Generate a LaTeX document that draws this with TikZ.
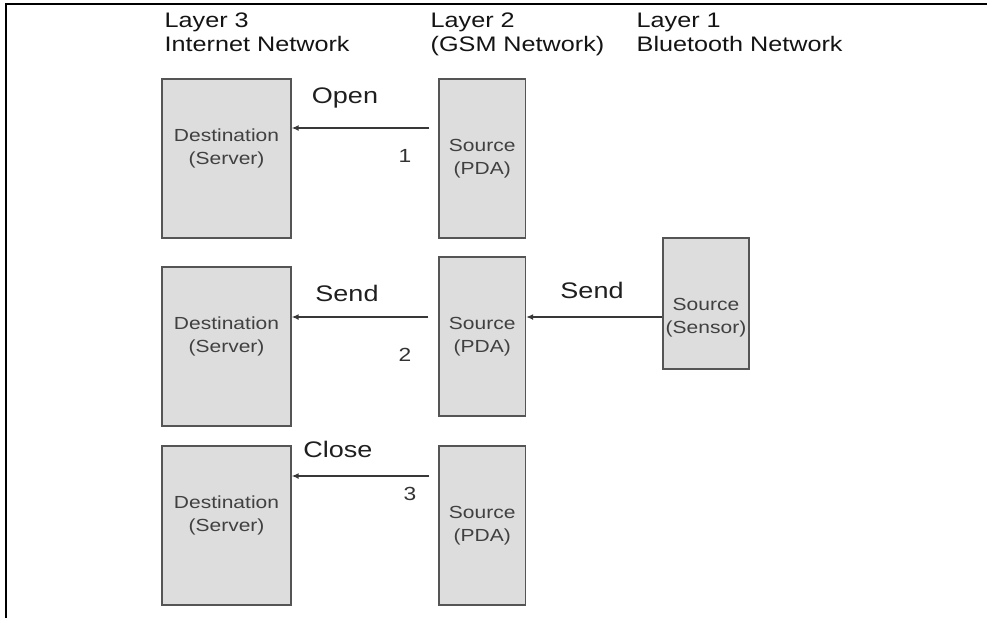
\documentclass[tikz,border=0pt]{standalone}
\usepackage{fontspec}
\setmainfont{Liberation Sans}[FakeStretch=1.2]
\usetikzlibrary{positioning, arrows.meta}
\definecolor{boxfill}{HTML}{DDDDDD}
\definecolor{boxline}{HTML}{555555}
\definecolor{boxtext}{HTML}{404040}
\definecolor{inkline}{HTML}{383838}
\newcommand{\hdfont}{\fontsize{21}{24}\selectfont}
\newcommand{\bxfont}{\fontsize{17.5}{23}\selectfont}
\newcommand{\lbfont}{\fontsize{22.5}{27}\selectfont}
\tikzset{
  arr/.style={-{Latex[length=7pt,width=6pt]}, line width=1.5pt, draw=inkline},
  blk/.style={draw=boxline, fill=boxfill, line width=1.3pt, inner sep=0pt, minimum height=159pt},
  bxt/.style={font=\bxfont, text=boxtext, align=center, inner sep=0pt},
  hd/.style={font=\hdfont, text=black!92, align=left, inner sep=0pt, anchor=north west},
  lab/.style={font=\lbfont, text=black!88, inner sep=0pt, anchor=base}
}

\begin{document}
\begin{tikzpicture}[x=1pt, y=1pt,
  srv/.style={blk, minimum width=129pt, label={[bxt, yshift=10.5pt]center:Destination\\(Server)}},
  pda/.style={blk, minimum width=86.5pt, label={[bxt]center:Source\\(PDA)}},
  sen/.style={blk, minimum width=86pt, minimum height=131pt, label={[bxt, yshift=-14.5pt]center:Source\\(Sensor)}},
  num/.style={font=\fontsize{19}{23}\selectfont, text=black!80, inner sep=0pt, anchor=base}]
\useasboundingbox (0,0) rectangle (987,-618);
\draw[line width=2pt] (6,-618) -- (6,-4.5) -- (987,-4.5);
% layer headings
\node[hd] (h3) at (164.5,-13) {Layer 3\\Internet Network};
\node[hd] (h2) at (430.5,-13) {Layer 2\\(GSM Network)};
\node[hd] (h1) at (636.5,-13) {Layer 1\\Bluetooth Network};
% boxes
\node[srv] (d1) at (226.5,-158.5) {};
\node[srv] (d2) at (226.5,-346.5) {};
\node[srv] (d3) at (226.5,-525.5) {};
\node[pda] (p1) at (482.25,-158.5) {};
\node[pda] (p2) at (482.25,-336.5) {};
\node[pda] (p3) at (482.25,-525.5) {};
\node[sen] (s1) at (706,-303.5) {};
% messages
\coordinate (t1) at ([xshift=-9pt, yshift=30.5pt]p1.west);
\coordinate (t2) at ([xshift=-10pt, yshift=19.5pt]p2.west);
\coordinate (t3) at ([xshift=-9pt, yshift=49.5pt]p3.west);
\coordinate (t4) at ([yshift=-13.5pt]s1.west);
\draw[arr] (t1) -- (t1 -| d1.east);
\draw[arr] (t2) -- (t2 -| d2.east);
\draw[arr] (t3) -- (t3 -| d3.east);
\draw[arr] (t4) -- (t4 -| p2.east);
\node[lab] (lopen) at (345,-103.5) {Open};
\node[lab] (lsend) at (347,-301.5) {Send};
\node[lab] (lsend2) at (592,-298) {Send};
\node[lab] (lclose) at (338,-457) {Close};
\node[num] (n1) at (405,-162.5) {1};
\node[num] (n2) at (405,-361.5) {2};
\node[num] (n3) at (410,-500) {3};
\end{tikzpicture}
\end{document}
